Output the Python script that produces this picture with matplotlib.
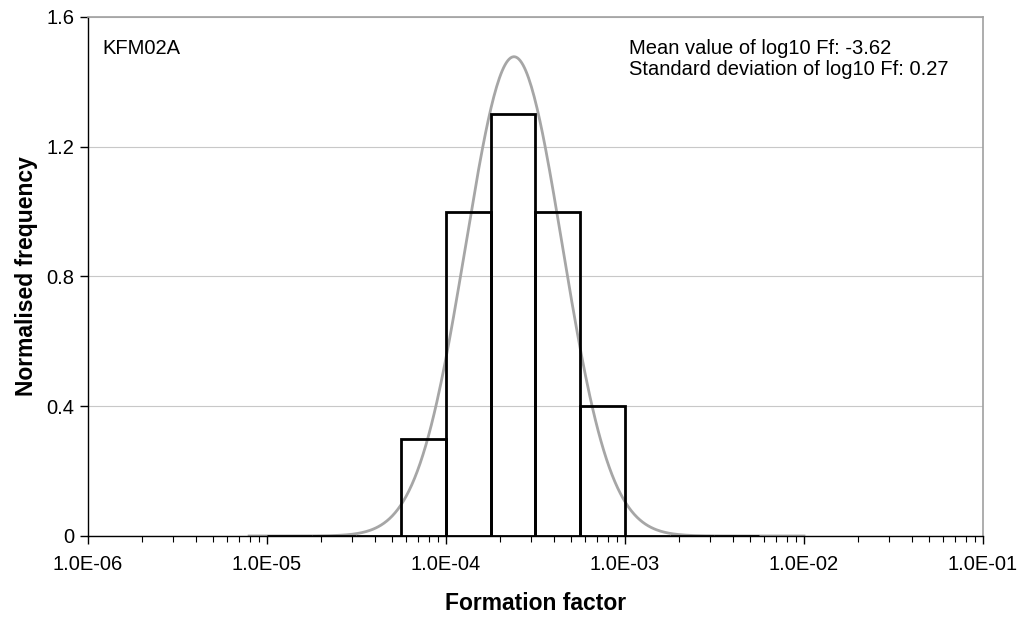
import numpy as np
import matplotlib
matplotlib.use("Agg")
import matplotlib.pyplot as plt
from matplotlib.ticker import FixedLocator, LogLocator, NullFormatter

# log10 bin edges (left edge of each bin) and normalised frequencies
log_left_edges = [-5.0, -4.75, -4.5, -4.25, -4.0, -3.75, -3.5, -3.25, -3.0, -2.75, -2.5]
bin_width = 0.25
freq = [0.0, 0.0, 0.0, 0.3, 1.0, 1.3, 1.0, 0.4, 0.0, 0.0, 0.0]

mean_log = -3.62
std_log = 0.27
curve_range = (-5.1, -2.0)

x_ticks = [1e-6, 1e-5, 1e-4, 1e-3, 1e-2, 1e-1]
x_labels = ["1.0E-06", "1.0E-05", "1.0E-04", "1.0E-03", "1.0E-02", "1.0E-01"]
y_ticks = [0, 0.4, 0.8, 1.2, 1.6]
y_labels = ["0", "0.4", "0.8", "1.2", "1.6"]

plt.rcParams["font.family"] = ["Liberation Sans", "DejaVu Sans"]

fig = plt.figure(figsize=(10.22, 6.18), dpi=100)
ax = fig.add_axes([0.0861, 0.1327, 0.8757, 0.8398])

# fitted normal distribution of log10 Ff
xs = np.linspace(curve_range[0], curve_range[1], 400)
pdf = np.exp(-0.5 * ((xs - mean_log) / std_log) ** 2) / (std_log * np.sqrt(2 * np.pi))
ax.plot(10 ** xs, pdf, color="#a6a6a6", lw=2.0, zorder=2)

lefts = 10 ** np.array(log_left_edges)
widths = 10 ** (np.array(log_left_edges) + bin_width) - lefts
ax.bar(lefts, freq, width=widths, align="edge", facecolor="none",
       edgecolor="black", linewidth=2.0, zorder=3)

ax.set_xscale("log")
ax.set_xlim(1e-6, 1e-1)
ax.set_ylim(0, 1.6)
ax.xaxis.set_major_locator(FixedLocator(x_ticks))
ax.set_xticklabels(x_labels)
ax.xaxis.set_minor_locator(LogLocator(base=10, subs=np.arange(2, 10)))
ax.xaxis.set_minor_formatter(NullFormatter())
ax.set_yticks(y_ticks)
ax.set_yticklabels(y_labels)

ax.grid(axis="y", color="#c8c8c8", lw=0.8, zorder=0)
ax.set_axisbelow(True)

for s in ("left", "bottom"):
    ax.spines[s].set_color("black")
    ax.spines[s].set_linewidth(1.0)
for s in ("top", "right"):
    ax.spines[s].set_color("#a0a0a0")
    ax.spines[s].set_linewidth(1.2)

ax.tick_params(axis="both", which="major", direction="out", length=6,
               width=1.0, labelsize=14.5, colors="black", pad=4)
ax.tick_params(axis="x", which="minor", direction="out", length=4, width=0.8)
ax.tick_params(axis="x", which="major", pad=8)

ax.set_xlabel("Formation factor", fontsize=16.5, fontweight="bold", labelpad=13)
ax.set_ylabel("Normalised frequency", fontsize=16.5, fontweight="bold", labelpad=6)

ax.text(0.016, 0.958, "KFM02A", transform=ax.transAxes, fontsize=14.5,
        va="top", ha="left")
ax.text(0.604, 0.958,
        "Mean value of log10 Ff: -3.62\nStandard deviation of log10 Ff: 0.27",
        transform=ax.transAxes, fontsize=14.5, va="top", ha="left",
        linespacing=1.15)

fig.savefig("out.png", dpi=100)
